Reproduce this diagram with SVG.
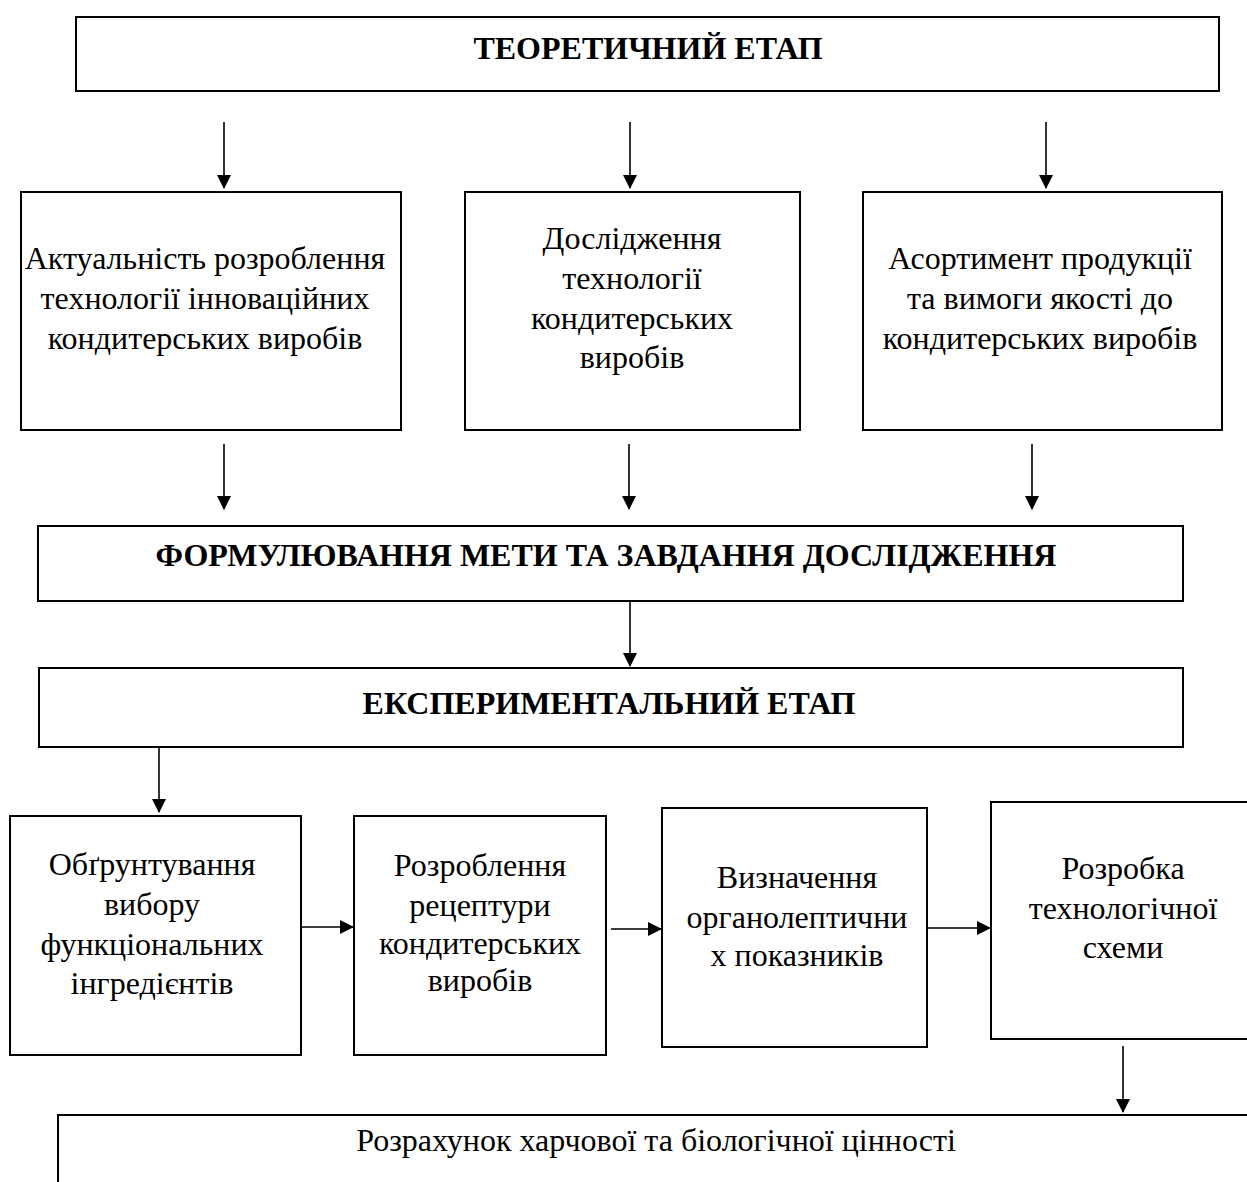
<svg xmlns="http://www.w3.org/2000/svg" width="1247" height="1182" viewBox="0 0 1247 1182">
<defs>
<marker id="ah" markerWidth="14" markerHeight="14" refX="13" refY="7" orient="auto" markerUnits="userSpaceOnUse">
<path d="M0,0 L14,7 L0,14 Z" fill="#000"/>
</marker>
<style>
.box{fill:#fff;stroke:#000;stroke-width:2}
.t{font-family:"Liberation Serif","Times New Roman",serif;font-size:32px;fill:#000;text-anchor:middle}
.b{font-weight:bold;font-size:32px}
.c{stroke:#000;stroke-width:1.6;fill:none;marker-end:url(#ah)}
</style>
</defs>
<rect width="1247" height="1182" fill="#fff"/>
<g id="n-theory"><rect class="box" x="76" y="17" width="1143" height="74"/><text class="t b" x="648" y="59">ТЕОРЕТИЧНИЙ ЕТАП</text></g>
<g id="n-actual"><rect class="box" x="21" y="192" width="380" height="238"/>
<text class="t" x="205" y="269">Актуальність розроблення</text>
<text class="t" x="205" y="309">технології інноваційних</text>
<text class="t" x="205" y="349">кондитерських виробів</text></g>
<g id="n-research"><rect class="box" x="465" y="192" width="335" height="238"/>
<text class="t" x="632" y="249">Дослідження</text>
<text class="t" x="632" y="289">технології</text>
<text class="t" x="632" y="329">кондитерських</text>
<text class="t" x="632" y="368">виробів</text></g>
<g id="n-assort"><rect class="box" x="863" y="192" width="359" height="238"/>
<text class="t" x="1040" y="269">Асортимент продукції</text>
<text class="t" x="1040" y="309">та вимоги якості до</text>
<text class="t" x="1040" y="349">кондитерських виробів</text></g>
<g id="n-goal"><rect class="box" x="38" y="526" width="1145" height="75"/><text class="t b" x="606" y="566">ФОРМУЛЮВАННЯ МЕТИ ТА ЗАВДАННЯ ДОСЛІДЖЕННЯ</text></g>
<g id="n-exp"><rect class="box" x="39" y="668" width="1144" height="79"/><text class="t b" x="609" y="714">ЕКСПЕРИМЕНТАЛЬНИЙ ЕТАП</text></g>
<g id="n-justify"><rect class="box" x="10" y="816" width="291" height="239"/>
<text class="t" x="152" y="875">Обґрунтування</text>
<text class="t" x="152" y="915">вибору</text>
<text class="t" x="152" y="955">функціональних</text>
<text class="t" x="152" y="994">інгредієнтів</text></g>
<g id="n-recipe"><rect class="box" x="354" y="816" width="252" height="239"/>
<text class="t" x="480" y="876">Розроблення</text>
<text class="t" x="480" y="916">рецептури</text>
<text class="t" x="480" y="954">кондитерських</text>
<text class="t" x="480" y="991">виробів</text></g>
<g id="n-organo"><rect class="box" x="662" y="808" width="265" height="239"/>
<text class="t" x="797" y="888">Визначення</text>
<text class="t" x="797" y="928">органолептични</text>
<text class="t" x="797" y="966">х показників</text></g>
<g id="n-scheme"><rect class="box" x="991" y="802" width="262" height="237"/>
<text class="t" x="1123" y="879">Розробка</text>
<text class="t" x="1123" y="919">технологічної</text>
<text class="t" x="1123" y="958">схеми</text></g>
<g id="n-calc"><rect class="box" x="58" y="1115" width="1200" height="80"/>
<text class="t" x="656" y="1151">Розрахунок харчової та біологічної цінності</text></g>
<g id="connectors">
<line class="c" x1="224" y1="122" x2="224" y2="188"/>
<line class="c" x1="630" y1="122" x2="630" y2="188"/>
<line class="c" x1="1046" y1="122" x2="1046" y2="188"/>
<line class="c" x1="224" y1="444" x2="224" y2="509"/>
<line class="c" x1="629" y1="444" x2="629" y2="509"/>
<line class="c" x1="1032" y1="444" x2="1032" y2="509"/>
<line class="c" x1="630" y1="601" x2="630" y2="666"/>
<line class="c" x1="159" y1="747" x2="159" y2="812"/>
<line class="c" x1="301" y1="927" x2="353" y2="927"/>
<line class="c" x1="611" y1="929" x2="661" y2="929"/>
<line class="c" x1="927" y1="928" x2="990" y2="928"/>
<line class="c" x1="1123" y1="1046" x2="1123" y2="1112"/>
</g>
</svg>
